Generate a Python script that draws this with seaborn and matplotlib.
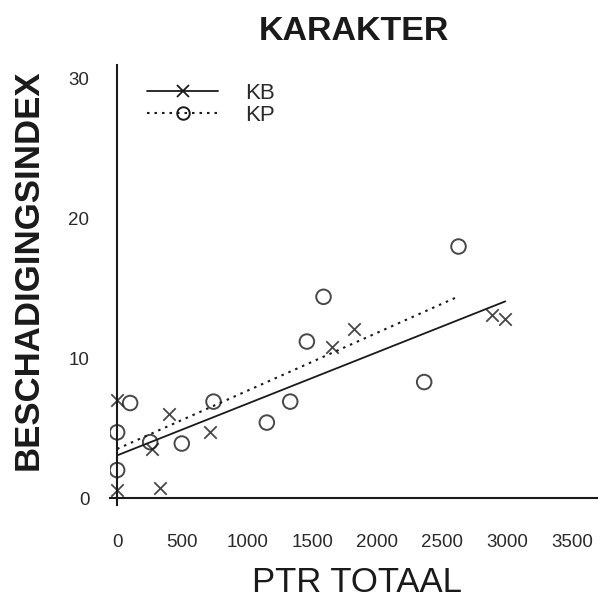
import matplotlib
matplotlib.use("Agg")
import matplotlib.pyplot as plt
from matplotlib.lines import Line2D
import seaborn as sns
import pandas as pd

# KB series (crosses)
kb_ptr = [0, 0, 267, 326, 395, 715, 1651, 1823, 2882, 2985]
kb_index = [7.0, 0.6, 3.5, 0.7, 6.0, 4.7, 10.8, 12.1, 13.1, 12.8]

# KP series (open circles)
kp_ptr = [0, 0, 100, 254, 497, 741, 1151, 1331, 1459, 1587, 2361, 2625]
kp_index = [4.7, 2.0, 6.8, 4.0, 3.9, 6.9, 5.4, 6.9, 11.2, 14.4, 8.3, 18.0]

x_ticks = [0, 500, 1000, 1500, 2000, 2500, 3000, 3500]
y_ticks = [0, 10, 20, 30]

sns.set_theme(style="white")
plt.rcParams["font.family"] = ["Liberation Sans", "DejaVu Sans"]

ink = "#1a1a1a"
kb = pd.DataFrame({"ptr": kb_ptr, "index": kb_index})
kp = pd.DataFrame({"ptr": kp_ptr, "index": kp_index})

fig = plt.figure(figsize=(6.02, 5.98), dpi=100)
ax = fig.add_axes([0.1827, 0.1555, 0.809, 0.736])

sns.regplot(data=kb, x="ptr", y="index", ax=ax, ci=None, truncate=True,
            marker="x",
            scatter_kws=dict(s=80, color=ink, linewidths=1.3),
            line_kws=dict(color=ink, lw=1.3, ls="-"))
sns.regplot(data=kp, x="ptr", y="index", ax=ax, ci=None, truncate=True,
            marker="o",
            scatter_kws=dict(s=110, facecolors="none", edgecolors=ink, linewidths=1.4),
            line_kws=dict(color=ink, lw=1.5, ls=(0, (1.2, 2.4))))

ax.set_xlim(-55, 3690)
ax.set_ylim(-0.5, 31)
for side in ("top", "right"):
    ax.spines[side].set_visible(False)
ax.spines["left"].set_position(("data", 0))
ax.spines["bottom"].set_position(("data", 0))
for side in ("left", "bottom"):
    ax.spines[side].set_color(ink)
    ax.spines[side].set_linewidth(1.5)

ax.set_xticks(x_ticks)
ax.set_yticks(y_ticks)
ax.tick_params(axis="both", direction="out", length=6, width=1.3, color=ink,
               labelsize=13.5, labelcolor="#2a2a2a")
ax.tick_params(axis="x", pad=20)
ax.tick_params(axis="y", pad=14)

ax.set_xlabel("PTR TOTAAL", fontsize=25, color=ink, va="top")
ax.xaxis.set_label_coords(0.507, -0.139)
ax.set_ylabel("BESCHADIGINGSINDEX", fontsize=25, color=ink,
              fontweight="bold", va="center")
ax.yaxis.set_label_coords(-0.168, 0.534)
ax.set_title("KARAKTER", fontsize=24.5, color=ink, fontweight="bold", pad=18)

handles = [
    Line2D([], [], color=ink, lw=1.3, ls="-", marker="x", markersize=9,
           markeredgewidth=1.3),
    Line2D([], [], color=ink, lw=1.5, ls=(0, (1.2, 2.4)), marker="o", markersize=9,
           markerfacecolor="none", markeredgewidth=1.4),
]
ax.legend(handles, ["KB", "KP"], loc="upper left", bbox_to_anchor=(0.035, 1.005),
          frameon=False, fontsize=16, handlelength=3.2, numpoints=1,
          handletextpad=1.2, labelspacing=0.05, labelcolor="#2a2a2a")

fig.savefig("out.png", dpi=100)
